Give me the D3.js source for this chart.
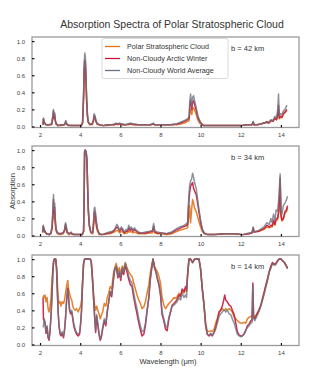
<!DOCTYPE html>
<html><head><meta charset="utf-8">
<script src="https://cdn.jsdelivr.net/npm/d3@7"></script>
<style>body{margin:0;background:#fff}svg{display:block}text{font-family:"Liberation Sans",Arial,sans-serif}</style>
</head><body><svg id="c" width="315" height="370"></svg>
<script>
const titleText = "Absorption Spectra of Polar Stratospheric Cloud";
const seriesNames = ["Polar Stratospheric Cloud","Non-Cloudy Arctic Winter","Non-Cloudy World Average"];
const seriesColors = ["#e07418","#c8173a","#6b7280"];
const panelLabels = ["b = 42 km","b = 34 km","b = 14 km"];
const xTicks = [2,4,6,8,10,12,14];
const yTicks = [0,0.2,0.4,0.6,0.8,1.0];
const xLabel = "Wavelength (μm)";
const yLabel = "Absorption";

// b = 42 km
const wl42 = [2.15,2.17,2.22,2.3,2.45,2.58,2.63,2.67,2.7,2.73,2.76,2.8,2.9,3.05,3.2,3.26,3.28,3.31,3.38,3.5,3.8,4.05,4.12,4.17,4.2,4.23,4.26,4.29,4.32,4.36,4.4,4.47,4.6,4.66,4.7,4.74,4.78,4.84,4.95,5.15,5.35,5.55,5.7,5.8,5.88,5.95,6.05,6.15,6.25,6.4,6.5,6.6,6.75,6.9,7.1,7.3,7.5,7.65,7.7,7.9,8.2,8.5,8.8,9.0,9.2,9.35,9.43,9.46,9.5,9.53,9.56,9.6,9.65,9.7,9.78,9.86,9.95,10.05,10.15,10.4,10.8,11.2,11.6,12.0,12.3,12.55,12.62,12.66,12.8,13.0,13.15,13.3,13.4,13.5,13.6,13.7,13.78,13.84,13.88,13.92,13.98,14.05,14.12,14.2,14.3];
const world42 = [0.02,0.1,0.05,0.02,0.02,0.03,0.12,0.2,0.12,0.16,0.08,0.04,0.01,0.02,0.02,0.05,0.07,0.04,0.02,0.01,0.01,0.01,0.05,0.4,0.75,0.86,0.82,0.6,0.35,0.15,0.06,0.03,0.03,0.08,0.15,0.12,0.08,0.04,0.02,0.01,0.02,0.02,0.03,0.04,0.03,0.04,0.03,0.03,0.02,0.03,0.04,0.03,0.03,0.02,0.02,0.02,0.02,0.04,0.02,0.02,0.02,0.02,0.03,0.05,0.07,0.09,0.12,0.3,0.38,0.3,0.24,0.34,0.36,0.3,0.22,0.13,0.07,0.03,0.01,0.01,0.01,0.01,0.01,0.01,0.02,0.02,0.06,0.02,0.02,0.03,0.04,0.06,0.05,0.08,0.07,0.12,0.1,0.2,0.38,0.12,0.15,0.14,0.18,0.2,0.25];
const arctic42 = [0.02,0.09,0.04,0.02,0.02,0.03,0.1,0.18,0.1,0.14,0.07,0.03,0.01,0.02,0.02,0.04,0.06,0.03,0.02,0.01,0.01,0.01,0.04,0.35,0.68,0.78,0.75,0.55,0.32,0.13,0.05,0.03,0.03,0.07,0.13,0.11,0.07,0.03,0.02,0.01,0.02,0.02,0.02,0.03,0.03,0.03,0.03,0.02,0.02,0.03,0.03,0.03,0.02,0.02,0.02,0.02,0.02,0.03,0.02,0.02,0.02,0.02,0.03,0.04,0.06,0.08,0.1,0.25,0.3,0.26,0.2,0.28,0.3,0.26,0.19,0.11,0.06,0.03,0.01,0.01,0.01,0.01,0.01,0.01,0.02,0.02,0.05,0.02,0.02,0.03,0.04,0.05,0.04,0.07,0.06,0.1,0.08,0.14,0.25,0.1,0.12,0.11,0.15,0.17,0.2];
const psc42 = [0.02,0.07,0.04,0.02,0.02,0.02,0.08,0.15,0.09,0.12,0.06,0.03,0.01,0.01,0.02,0.04,0.05,0.03,0.01,0.01,0.01,0.01,0.04,0.32,0.62,0.72,0.7,0.52,0.3,0.12,0.05,0.02,0.02,0.06,0.11,0.09,0.06,0.03,0.02,0.01,0.01,0.02,0.02,0.03,0.02,0.03,0.02,0.02,0.02,0.02,0.03,0.02,0.02,0.02,0.02,0.02,0.02,0.03,0.02,0.02,0.02,0.02,0.02,0.03,0.04,0.06,0.07,0.16,0.2,0.17,0.14,0.2,0.22,0.19,0.14,0.08,0.04,0.02,0.01,0.01,0.01,0.01,0.01,0.01,0.02,0.02,0.05,0.02,0.02,0.03,0.04,0.05,0.04,0.07,0.06,0.09,0.08,0.12,0.2,0.09,0.11,0.1,0.14,0.16,0.19];

// b = 34 km
const wl34 = [2.13,2.16,2.2,2.25,2.33,2.45,2.55,2.6,2.64,2.67,2.7,2.73,2.76,2.8,2.87,3.0,3.15,3.22,3.27,3.3,3.35,3.45,3.55,3.6,3.7,3.9,4.1,4.17,4.2,4.22,4.25,4.3,4.34,4.37,4.41,4.46,4.53,4.62,4.66,4.7,4.73,4.76,4.8,4.86,4.95,5.1,5.3,5.45,5.6,5.7,5.77,5.83,5.9,5.97,6.05,6.12,6.2,6.28,6.36,6.42,6.48,6.55,6.62,6.7,6.8,6.9,7.05,7.25,7.45,7.6,7.66,7.72,7.85,8.05,8.3,8.55,8.75,8.95,9.1,9.25,9.35,9.4,9.45,9.5,9.55,9.6,9.65,9.7,9.78,9.85,9.92,10.0,10.08,10.17,10.35,10.7,11.2,11.7,12.1,12.4,12.56,12.62,12.66,12.9,13.15,13.3,13.42,13.5,13.56,13.63,13.7,13.76,13.83,13.9,13.96,14.0,14.05,14.12,14.2,14.28,14.33];
const world34 = [0.04,0.12,0.08,0.05,0.02,0.01,0.03,0.12,0.3,0.48,0.3,0.38,0.2,0.08,0.03,0.02,0.03,0.07,0.15,0.12,0.04,0.02,0.04,0.02,0.01,0.01,0.01,0.05,0.5,0.98,1.0,0.98,0.88,0.6,0.3,0.12,0.04,0.03,0.15,0.32,0.33,0.28,0.18,0.08,0.02,0.01,0.03,0.04,0.05,0.07,0.1,0.13,0.1,0.06,0.1,0.08,0.04,0.07,0.06,0.12,0.08,0.1,0.06,0.09,0.06,0.04,0.03,0.04,0.05,0.06,0.14,0.05,0.04,0.03,0.02,0.04,0.07,0.1,0.11,0.13,0.15,0.4,0.58,0.64,0.66,0.73,0.68,0.62,0.55,0.42,0.3,0.18,0.08,0.03,0.01,0.01,0.02,0.02,0.01,0.03,0.03,0.1,0.04,0.06,0.1,0.15,0.13,0.2,0.15,0.25,0.18,0.3,0.28,0.45,0.72,0.3,0.25,0.35,0.38,0.42,0.46];
const arctic34 = [0.04,0.11,0.07,0.04,0.02,0.01,0.03,0.1,0.26,0.42,0.26,0.33,0.17,0.07,0.03,0.02,0.03,0.06,0.13,0.1,0.04,0.02,0.03,0.02,0.01,0.01,0.01,0.05,0.5,0.98,1.0,0.98,0.87,0.58,0.28,0.11,0.04,0.03,0.12,0.27,0.28,0.24,0.15,0.07,0.02,0.01,0.02,0.03,0.04,0.06,0.08,0.1,0.08,0.05,0.08,0.06,0.03,0.05,0.05,0.09,0.06,0.08,0.05,0.07,0.05,0.03,0.03,0.03,0.04,0.05,0.11,0.04,0.03,0.03,0.02,0.03,0.06,0.08,0.1,0.11,0.13,0.35,0.5,0.58,0.6,0.62,0.55,0.52,0.48,0.38,0.27,0.15,0.07,0.03,0.01,0.01,0.02,0.02,0.01,0.02,0.03,0.09,0.04,0.05,0.08,0.12,0.1,0.12,0.11,0.18,0.13,0.2,0.2,0.3,0.68,0.25,0.18,0.2,0.28,0.3,0.35];
const psc34 = [0.03,0.08,0.06,0.04,0.02,0.01,0.02,0.08,0.2,0.3,0.2,0.25,0.12,0.05,0.02,0.01,0.02,0.05,0.1,0.08,0.03,0.01,0.03,0.01,0.01,0.01,0.01,0.05,0.48,0.97,1.0,0.97,0.85,0.55,0.25,0.1,0.03,0.02,0.09,0.2,0.22,0.18,0.11,0.05,0.01,0.01,0.02,0.02,0.03,0.04,0.05,0.06,0.05,0.03,0.05,0.04,0.02,0.03,0.03,0.05,0.04,0.05,0.03,0.04,0.03,0.02,0.02,0.02,0.03,0.03,0.08,0.03,0.02,0.02,0.01,0.02,0.04,0.06,0.07,0.08,0.09,0.2,0.35,0.15,0.3,0.42,0.38,0.32,0.28,0.22,0.16,0.1,0.05,0.02,0.01,0.01,0.02,0.02,0.01,0.02,0.03,0.08,0.04,0.05,0.07,0.1,0.09,0.1,0.1,0.15,0.12,0.18,0.18,0.28,0.6,0.22,0.17,0.19,0.26,0.28,0.33];

// b = 14 km
const wl14 = [2.15,2.17,2.21,2.25,2.3,2.35,2.4,2.45,2.5,2.55,2.6,2.64,2.68,2.72,2.78,2.82,2.86,2.9,2.95,3.0,3.05,3.1,3.17,3.22,3.27,3.32,3.38,3.42,3.47,3.52,3.58,3.63,3.68,3.75,3.82,3.9,3.97,4.02,4.07,4.12,4.17,4.22,4.3,4.4,4.5,4.55,4.6,4.65,4.7,4.73,4.77,4.82,4.88,4.95,5.0,5.05,5.12,5.2,5.28,5.35,5.42,5.5,5.57,5.65,5.72,5.8,5.88,5.95,6.02,6.1,6.17,6.25,6.33,6.42,6.5,6.58,6.67,6.75,6.83,6.92,7.0,7.08,7.17,7.25,7.33,7.42,7.5,7.58,7.63,7.7,7.78,7.85,7.92,8.0,8.08,8.17,8.25,8.33,8.42,8.5,8.58,8.67,8.75,8.83,8.92,9.0,9.08,9.17,9.25,9.3,9.35,9.42,9.5,9.6,9.7,9.8,9.92,10.0,10.08,10.17,10.25,10.33,10.42,10.5,10.58,10.67,10.75,10.83,10.92,11.0,11.08,11.15,11.2,11.25,11.33,11.42,11.5,11.58,11.67,11.75,11.83,11.92,12.0,12.08,12.17,12.25,12.33,12.42,12.5,12.56,12.6,12.64,12.7,12.8,12.9,13.0,13.08,13.17,13.25,13.33,13.42,13.5,13.58,13.67,13.75,13.83,13.92,14.0,14.08,14.17,14.25,14.33];
const world14 = [0.2,0.22,0.3,0.26,0.15,0.22,0.1,0.06,0.18,0.35,0.6,0.85,0.98,1.0,1.0,0.9,0.65,0.4,0.22,0.14,0.12,0.15,0.1,0.18,0.32,0.5,0.65,0.55,0.42,0.38,0.4,0.32,0.25,0.18,0.14,0.12,0.14,0.25,0.42,0.72,0.95,1.0,1.0,1.0,1.0,0.97,0.8,0.6,0.4,0.3,0.16,0.35,0.25,0.12,0.06,0.1,0.2,0.3,0.25,0.4,0.5,0.62,0.58,0.75,0.88,0.92,0.8,0.86,0.78,0.9,0.85,0.95,0.88,0.8,0.75,0.72,0.6,0.5,0.42,0.3,0.22,0.15,0.16,0.25,0.4,0.55,0.78,0.92,1.0,0.9,0.85,0.78,0.72,0.6,0.38,0.3,0.22,0.2,0.32,0.38,0.45,0.46,0.48,0.5,0.55,0.52,0.6,0.55,0.58,0.55,0.8,1.0,1.0,0.96,1.0,1.0,1.0,0.88,0.65,0.45,0.22,0.12,0.11,0.13,0.11,0.14,0.18,0.25,0.33,0.36,0.38,0.4,0.4,0.38,0.4,0.36,0.35,0.3,0.25,0.18,0.12,0.1,0.09,0.1,0.12,0.16,0.2,0.22,0.25,0.26,0.7,0.3,0.28,0.33,0.38,0.45,0.52,0.6,0.68,0.75,0.85,0.9,0.95,0.93,0.94,0.98,1.0,1.0,0.98,0.96,0.93,0.89];
const arctic14 = [0.55,0.3,0.28,0.24,0.13,0.2,0.08,0.05,0.16,0.33,0.6,0.85,0.98,1.0,1.0,0.9,0.63,0.38,0.2,0.12,0.1,0.13,0.08,0.16,0.3,0.5,0.66,0.55,0.4,0.36,0.38,0.3,0.22,0.16,0.12,0.1,0.12,0.23,0.4,0.72,0.95,1.0,1.0,1.0,1.0,0.97,0.82,0.62,0.4,0.28,0.14,0.33,0.22,0.1,0.05,0.08,0.18,0.28,0.22,0.38,0.5,0.62,0.56,0.74,0.88,0.9,0.78,0.84,0.75,0.88,0.82,0.93,0.85,0.76,0.7,0.68,0.55,0.45,0.36,0.25,0.17,0.1,0.12,0.22,0.38,0.55,0.78,0.92,1.0,0.9,0.84,0.76,0.7,0.58,0.35,0.27,0.18,0.16,0.3,0.38,0.46,0.48,0.5,0.53,0.58,0.56,0.65,0.62,0.68,0.64,0.82,1.0,1.0,0.96,1.0,1.0,1.0,0.88,0.66,0.46,0.22,0.12,0.1,0.12,0.1,0.14,0.2,0.28,0.38,0.4,0.45,0.52,0.58,0.52,0.5,0.46,0.45,0.4,0.35,0.25,0.15,0.11,0.1,0.1,0.13,0.17,0.22,0.24,0.28,0.28,0.72,0.32,0.3,0.35,0.4,0.46,0.54,0.62,0.7,0.77,0.86,0.92,0.96,0.94,0.95,0.98,1.0,1.0,0.98,0.96,0.93,0.89];
const psc14 = [0.55,0.57,0.55,0.58,0.5,0.55,0.42,0.38,0.45,0.55,0.78,0.88,0.98,1.0,1.0,0.92,0.75,0.55,0.48,0.5,0.45,0.5,0.48,0.52,0.6,0.68,0.75,0.65,0.6,0.55,0.52,0.45,0.42,0.4,0.42,0.38,0.42,0.45,0.52,0.75,0.95,1.0,1.0,1.0,1.0,0.97,0.82,0.65,0.5,0.45,0.4,0.45,0.4,0.35,0.3,0.34,0.38,0.48,0.45,0.55,0.6,0.68,0.65,0.82,0.9,0.95,0.85,0.9,0.82,0.92,0.88,0.96,0.9,0.85,0.82,0.8,0.72,0.65,0.58,0.52,0.48,0.42,0.44,0.5,0.6,0.7,0.85,0.95,1.0,0.92,0.88,0.85,0.8,0.72,0.55,0.46,0.42,0.45,0.48,0.5,0.52,0.55,0.54,0.56,0.6,0.58,0.62,0.6,0.64,0.62,0.82,1.0,1.0,0.96,1.0,1.0,1.0,0.88,0.66,0.46,0.25,0.16,0.15,0.16,0.15,0.18,0.25,0.3,0.38,0.4,0.42,0.4,0.4,0.42,0.4,0.42,0.4,0.38,0.32,0.3,0.28,0.26,0.25,0.25,0.26,0.25,0.3,0.32,0.33,0.32,0.4,0.33,0.32,0.36,0.4,0.46,0.52,0.6,0.68,0.75,0.85,0.9,0.95,0.93,0.94,0.98,1.0,1.0,0.98,0.96,0.93,0.89];

const panels = [
  {wl: wl42, vals: [psc42, arctic42, world42], label: panelLabels[0]},
  {wl: wl34, vals: [psc34, arctic34, world34], label: panelLabels[1]},
  {wl: wl14, vals: [psc14, arctic14, world14], label: panelLabels[2]}
];

const svg = d3.select("#c");
const L = 32, R = 299, PH = 90.5;
const tops = [37, 146, 255];
const x = d3.scaleLinear().domain([1.6, 14.9]).range([L, R]);

svg.append("text").attr("x", 172).attr("y", 28).attr("text-anchor","middle")
  .attr("font-size", 10.5).attr("fill", "#333").text(titleText);

panels.forEach((p, i) => {
  const top = tops[i];
  const y = d3.scaleLinear().domain([-0.012, 1.048]).range([top + PH, top]);
  const g = svg.append("g");
  const clipId = "clip" + i;
  g.append("clipPath").attr("id", clipId).append("rect")
    .attr("x", L).attr("y", top).attr("width", R - L).attr("height", PH);
  const lg = g.append("g").attr("clip-path", `url(#${clipId})`);
  const line = d3.line().x(d => x(d[0])).y(d => y(d[1]));
  p.vals.forEach((v, k) => {
    const pts = p.wl.map((w, j) => [w, v[j]]);
    lg.append("path").datum(pts).attr("d", line).attr("fill","none")
      .attr("stroke", seriesColors[k]).attr("stroke-width", 1.5)
      .attr("stroke-opacity", k === 2 ? 0.78 : 0.9).attr("stroke-linejoin","round");
  });
  g.append("rect").attr("x", L).attr("y", top).attr("width", R - L).attr("height", PH)
    .attr("fill","none").attr("stroke","#9a9a9a").attr("stroke-width", 1.3);
  const ya = d3.axisLeft(y).tickValues(yTicks).tickFormat(d3.format(".1f")).tickSize(-2.5).tickPadding(7);
  const yg = g.append("g").attr("transform", `translate(${L},0)`).call(ya);
  const xa = d3.axisBottom(x).tickValues(xTicks).tickFormat(d3.format("d")).tickSize(-2.5).tickPadding(5.5);
  const xg = g.append("g").attr("transform", `translate(0,${top + PH})`).call(xa);
  [yg, xg].forEach(a => {
    a.select(".domain").remove();
    a.selectAll(".tick line").attr("stroke", "#111").attr("stroke-width", 1.2);
    a.selectAll(".tick text").attr("font-size", 6).attr("fill", "#444")
      .attr("font-family", '"Liberation Sans",Arial,sans-serif');
  });
  g.append("text").attr("x", 231).attr("y", top + 14).attr("font-size", 7.5)
    .attr("fill", "#333").text(p.label);
});

svg.append("text").attr("transform", "translate(15,191) rotate(-90)").attr("text-anchor","middle")
  .attr("font-size", 7.5).attr("fill","#333").text(yLabel);
svg.append("text").attr("x", 168).attr("y", 364).attr("text-anchor","middle")
  .attr("font-size", 7.5).attr("fill","#333").text(xLabel);

const lgd = svg.append("g");
lgd.append("rect").attr("x", 102).attr("y", 38.5).attr("width", 126).attr("height", 40).attr("rx", 2)
  .attr("fill", "#fff").attr("fill-opacity", 0.9).attr("stroke", "#d0d0d0").attr("stroke-width", 0.8);
seriesNames.forEach((n, k) => {
  const yy = 46.5 + k * 12;
  lgd.append("line").attr("x1", 105).attr("x2", 120).attr("y1", yy).attr("y2", yy)
    .attr("stroke", seriesColors[k]).attr("stroke-width", 1.3);
  lgd.append("text").attr("x", 127).attr("y", yy + 2.6).attr("font-size", 7.2)
    .attr("fill", "#333").text(n);
});
</script></body></html>
